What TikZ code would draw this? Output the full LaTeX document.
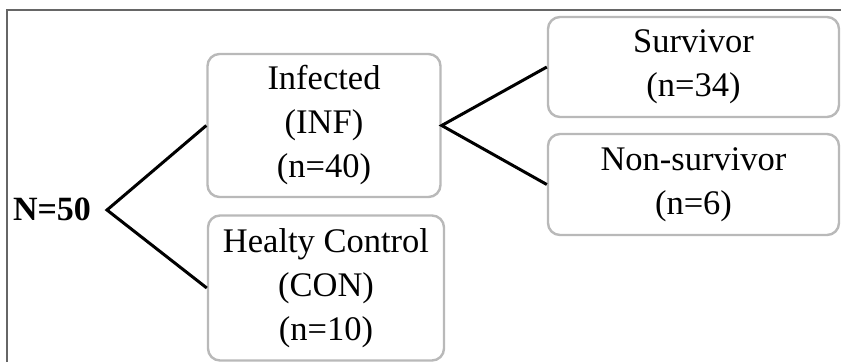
\documentclass[tikz,border=0pt]{standalone}
\usepackage{fontspec}
\setmainfont{Liberation Serif}
\usetikzlibrary{positioning, calc}

\begin{document}
\begin{tikzpicture}[
    x=1pt, y=-1pt,
    font=\fontsize{34.5}{44}\selectfont,
    grpbox/.style={draw=gray!55, line width=2.4pt, rounded corners=12pt, align=center, inner sep=4pt},
    branch/.style={line width=3pt, black}
]
\useasboundingbox (0,0) rectangle (841,362);

% Frame (only top and left edges visible)
\draw[line width=1.5pt, gray!80!black] (7,362) -- (7,10) -- (841,10);

% Total
\node[font=\fontsize{34}{40}\selectfont\bfseries] (total) at (52,209) {N=50};
\coordinate (fork1) at (107,210);

% First split
\node[grpbox, minimum width=233pt, minimum height=143pt] (inf) at (324,125.5) {Infected\\(INF)\\(n=40)};
\node[grpbox, minimum width=236pt, minimum height=145pt] (con) at (326,288) {Healty Control\\(CON)\\(n=10)};

% Outcome split
\coordinate (fork2) at (inf.east);
\node[grpbox, minimum width=291pt, minimum height=100pt] (surv) at (693.5,67) {Survivor\\(n=34)};
\node[grpbox, minimum width=291pt, minimum height=101pt] (nsurv) at (693.5,184.5) {Non-survivor\\(n=6)};

% Branches
\draw[branch] (inf.west) -- (fork1) -- (con.west);
\draw[branch] (surv.west) -- (fork2) -- (nsurv.west);

\end{tikzpicture}
\end{document}
